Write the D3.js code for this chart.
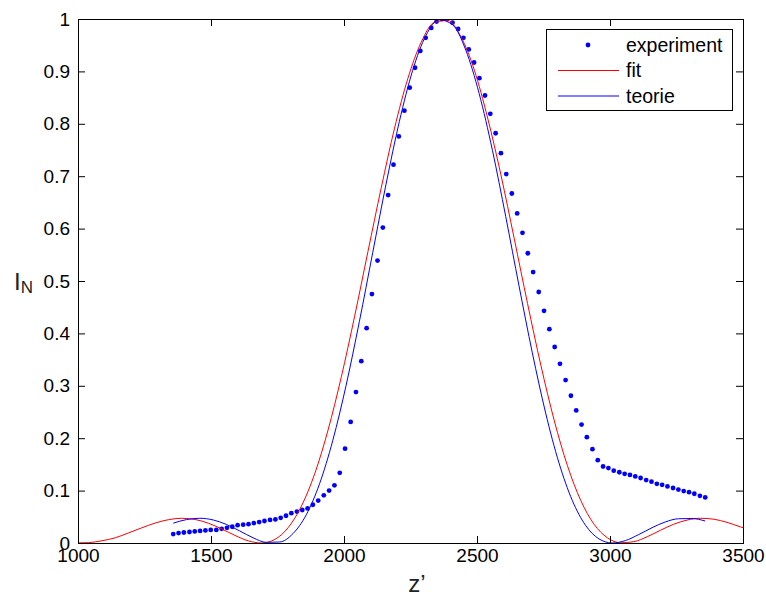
<!DOCTYPE html>
<html>
<head>
<meta charset="utf-8">
<script src="https://cdn.jsdelivr.net/npm/d3@7"></script>
<style>
  body { margin: 0; background: #fff; }
  svg { font-family: "Liberation Sans", Arial, sans-serif; }
</style>
</head>
<body>
<script>
// experiment points (z', I_N)
var expX = [1358,1378,1398,1419,1439,1459,1479,1499,1520,1540,1560,1580,1600,1621,1641,1661,1681,1701,1722,1742,
  1762,1782,1802,1823,1843,1863,1883,1903,1924,1944,1964,1984,2004,2025,2045,2065,2085,2105,2126,2146,
  2166,2186,2206,2227,2247,2267,2287,2307,2328,2348,2368,2388,2408,2429,2449,2469,2489,2509,2530,2550,
  2570,2590,2610,2631,2651,2671,2691,2711,2732,2752,2772,2792,2812,2833,2853,2873,2893,2913,2934,2954,
  2974,2994,3014,3035,3055,3075,3095,3115,3136,3156,3176,3196,3216,3237,3257,3277,3297,3317,3338,3358];
var expY = [0.017,0.019,0.020,0.021,0.022,0.023,0.024,0.025,0.025,0.027,0.029,0.031,0.034,0.035,0.036,0.038,0.040,0.042,0.044,0.045,
  0.048,0.052,0.057,0.060,0.063,0.066,0.073,0.081,0.091,0.100,0.110,0.134,0.180,0.231,0.288,0.347,0.410,0.475,0.539,0.602,
  0.664,0.722,0.776,0.825,0.869,0.907,0.939,0.964,0.983,0.995,1.000,1.000,0.993,0.981,0.964,0.942,0.917,0.887,0.854,0.819,
  0.782,0.744,0.704,0.667,0.629,0.592,0.553,0.517,0.479,0.443,0.408,0.374,0.342,0.311,0.281,0.253,0.226,0.202,0.179,0.158,
  0.146,0.143,0.138,0.135,0.132,0.130,0.127,0.124,0.120,0.117,0.113,0.111,0.108,0.105,0.102,0.099,0.097,0.094,0.090,0.087];

// fit curve
var fitX = [990,1040,1090,1140,1190,1240,1290,1340,1390,1440,1490,1540,1590,1640,1690,1740,1790,1840,1890,1940,
  1990,2040,2090,2140,2190,2240,2290,2340,2390,2440,2490,2540,2590,2640,2690,2740,2790,2840,2890,2940,
  2990,3040,3090,3140,3190,3240,3290,3340,3390,3440,3490,3540];
var fitY = [0.0001,0.0007,0.0043,0.0099,0.0193,0.0290,0.0380,0.0445,0.0472,0.0449,0.0377,0.0269,0.0145,0.0041,0.0000,0.0069,0.0293,0.0704,0.1323,0.2155,
  0.3171,0.4328,0.5561,0.6779,0.7916,0.8864,0.9555,0.9937,0.9972,0.9657,0.9025,0.8111,0.7024,0.5808,0.4571,0.3394,0.2345,0.1475,0.0813,0.0359,
  0.0100,0.0004,0.0026,0.0120,0.0244,0.0359,0.0438,0.0472,0.0454,0.0394,0.0308,0.0232];

// theory curve
var teoX = [1358,1408,1458,1508,1558,1608,1658,1708,1758,1808,1858,1908,1958,2008,2058,2108,2158,2208,2258,2308,
  2358,2408,2458,2508,2558,2608,2658,2708,2758,2808,2858,2908,2958,3008,3058,3108,3158,3208,3258,3308,3358];
var teoY = [0.0378,0.0447,0.0472,0.0440,0.0354,0.0230,0.0100,0.0012,0.0019,0.0178,0.0537,0.1129,0.1960,0.3011,0.4231,0.5543,0.6846,0.8042,0.9016,0.9685,
  0.9986,0.9891,0.9405,0.8579,0.7494,0.6230,0.4907,0.3629,0.2482,0.1532,0.0815,0.0338,0.0080,0.0000,0.0046,0.0161,0.0292,0.0402,0.0463,0.0467,0.0419];

var xTicks = [1000,1500,2000,2500,3000,3500];
var yTicks = [0,0.1,0.2,0.3,0.4,0.5,0.6,0.7,0.8,0.9,1];
var legendNames = ["experiment","fit","teorie"];

var width = 766, height = 605;
var plotLeft = 78, plotRight = 743, plotTop = 19, plotBottom = 543;

var svg = d3.select("body").append("svg")
  .attr("width", width)
  .attr("height", height);

var x = d3.scaleLinear().domain([1000,3500]).range([plotLeft,plotRight]);
var y = d3.scaleLinear().domain([0,1]).range([plotBottom,plotTop]);

svg.append("defs").append("clipPath").attr("id","plotclip")
  .append("rect").attr("x",plotLeft).attr("y",plotTop)
  .attr("width",plotRight-plotLeft).attr("height",plotBottom-plotTop);

var plot = svg.append("g").attr("clip-path","url(#plotclip)");

// experiment dots
plot.selectAll("circle.exp")
  .data(expX.map(function(d,i){ return [d, expY[i]]; }))
  .enter().append("circle")
  .attr("class","exp")
  .attr("cx", function(d){ return x(d[0]); })
  .attr("cy", function(d){ return y(d[1]); })
  .attr("r", 2.4)
  .style("fill", "#0000ff");

var line = d3.line()
  .x(function(d){ return x(d[0]); })
  .y(function(d){ return y(d[1]); })
  .curve(d3.curveMonotoneX);

plot.append("path")
  .datum(fitX.map(function(d,i){ return [d, fitY[i]]; }))
  .attr("d", line)
  .style("fill","none").style("stroke","#ff0000").style("stroke-width",1);

plot.append("path")
  .datum(teoX.map(function(d,i){ return [d, teoY[i]]; }))
  .attr("d", line)
  .style("fill","none").style("stroke","#0000ff").style("stroke-width",1);

// axes, ticks pointing inward on all four sides
function styleAxis(g) {
  g.select(".domain").remove();
  g.selectAll(".tick line").style("stroke","#000");
  g.selectAll(".tick text").style("font-size","19px").style("fill","#000");
}
svg.append("g").attr("transform","translate(0,"+plotBottom+")")
  .call(d3.axisBottom(x).tickValues(xTicks).tickFormat(d3.format("d")).tickSize(-7).tickPadding(6))
  .call(styleAxis);
svg.append("g").attr("transform","translate(0,"+plotTop+")")
  .call(d3.axisTop(x).tickValues(xTicks).tickFormat("").tickSize(-7))
  .call(styleAxis);
svg.append("g").attr("transform","translate("+plotLeft+",0)")
  .call(d3.axisLeft(y).tickValues(yTicks).tickFormat(d3.format("")).tickSize(-7).tickPadding(8))
  .call(styleAxis);
svg.append("g").attr("transform","translate("+plotRight+",0)")
  .call(d3.axisRight(y).tickValues(yTicks).tickFormat("").tickSize(-7))
  .call(styleAxis);

svg.append("rect")
  .attr("x", plotLeft+0.5).attr("y", plotTop+0.5)
  .attr("width", plotRight-plotLeft).attr("height", plotBottom-plotTop)
  .style("fill","none").style("stroke","#000").style("stroke-width",1);

// axis labels
svg.append("text")
  .attr("x", 417).attr("y", 592)
  .attr("text-anchor","middle")
  .style("font-size","24px").style("fill","#222")
  .text("z\u2019");

var yl = svg.append("text")
  .attr("x", 14).attr("y", 290)
  .style("font-size","24px").style("fill","#222");
yl.append("tspan").text("I");
yl.append("tspan").attr("dy", 3).style("font-size","17px").text("N");

// legend
var lg = svg.append("g").attr("transform","translate(546,29)");
lg.append("rect")
  .attr("x",0.5).attr("y",0.5).attr("width",186).attr("height",81)
  .style("fill","#fff").style("stroke","#000").style("stroke-width",1);
var rowY = [16, 41.5, 67];
lg.append("circle").attr("cx",42).attr("cy",rowY[0]).attr("r",2.4).style("fill","#0000ff");
lg.append("line").attr("x1",12).attr("x2",73).attr("y1",rowY[1]).attr("y2",rowY[1]).style("stroke","#ff0000");
lg.append("line").attr("x1",12).attr("x2",73).attr("y1",rowY[2]).attr("y2",rowY[2]).style("stroke","#0000ff");
lg.selectAll("text.lg")
  .data(legendNames)
  .enter().append("text")
  .attr("class","lg")
  .attr("x", 80)
  .attr("y", function(d,i){ return rowY[i]; })
  .attr("dy","0.35em")
  .style("font-size","19.5px")
  .text(function(d){ return d; });
</script>
</body>
</html>
